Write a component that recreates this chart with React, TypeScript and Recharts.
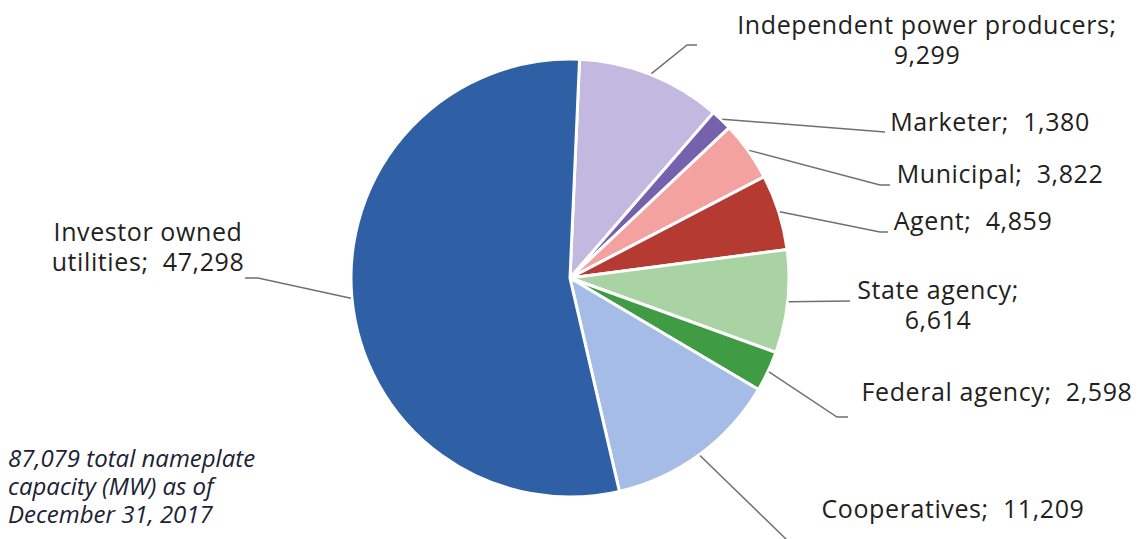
import React from "react";
import { Cell, Pie, PieChart } from "recharts";

// Nameplate capacity (MW) by owner type, clockwise from 12 o'clock.
const OWNERS = [
  "Independent power producers",
  "Marketer",
  "Municipal",
  "Agent",
  "State agency",
  "Federal agency",
  "Cooperatives",
  "Investor owned utilities",
];
const CAPACITY = [9299, 1380, 3822, 4859, 6614, 2598, 11209, 47298];
const COLORS = ["#c3b8df", "#7661ad", "#f3a2a0", "#b53a32", "#a9d3a2", "#3f9c45", "#a5bde6", "#2f5fa5"];
const FOOTNOTE = ["87,079 total nameplate", "capacity (MW) as of", "December 31, 2017"];

const fmt = new Intl.NumberFormat("en-US");
const rows = OWNERS.map((name, i) => ({ name, value: CAPACITY[i] }));

// label text placement + leader line bends (screen px)
const LABELS: { lines: (v: string) => string[]; x: number; y: number; path: [number, number][] }[] = [
  { lines: (v) => ["Independent power producers;", v], x: 927, y: 34, path: [[687, 45], [697, 45]] },
  { lines: (v) => [`Marketer;  ${v}`], x: 990, y: 131, path: [[885, 132]] },
  { lines: (v) => [`Municipal;  ${v}`], x: 1000, y: 183, path: [[880, 185], [890, 185]] },
  { lines: (v) => [`Agent;  ${v}`], x: 973, y: 230, path: [[880, 232], [888, 232]] },
  { lines: (v) => ["State agency;", v], x: 938, y: 299, path: [[850, 301]] },
  { lines: (v) => [`Federal agency;  ${v}`], x: 997, y: 401, path: [[837, 417], [848, 417]] },
  { lines: (v) => [`Cooperatives;  ${v}`], x: 953, y: 518, path: [[787, 540]] },
  { lines: (v) => ["Investor owned", `utilities;  ${v}`], x: 148, y: 241, path: [[258, 278], [245, 278]] },
];

const RAD = Math.PI / 180;
const FONT = "'Open Sans', Lato, sans-serif";

function renderLabel(props: any) {
  const { cx, cy, midAngle, outerRadius, index, value } = props;
  const cfg = LABELS[index];
  const sx = cx + (outerRadius + 1) * Math.cos(-midAngle * RAD);
  const sy = cy + (outerRadius + 1) * Math.sin(-midAngle * RAD);
  const pts = [[sx, sy], ...cfg.path].map((p) => p.join(",")).join(" ");
  return (
    <g key={`lbl-${index}`}>
      <polyline points={pts} fill="none" stroke="#707070" strokeWidth={1.5} />
      <text
        x={cfg.x}
        y={cfg.y}
        textAnchor="middle"
        fill="#231f20"
        fontSize={25}
        letterSpacing={0.6}
        fontFamily={FONT}
        style={{ whiteSpace: "pre" }}
      >
        {cfg.lines(fmt.format(value)).map((line, j) => (
          <tspan key={j} x={cfg.x} dy={j === 0 ? 0 : 30}>
            {line}
          </tspan>
        ))}
      </text>
    </g>
  );
}

export default function App() {
  return (
    <div style={{ position: "absolute", left: 0, top: 0, width: 1138, height: 539, background: "#fff" }}>
      <PieChart width={1138} height={539} margin={{ top: 0, right: 0, bottom: 0, left: 0 }}>
        <Pie
          data={rows}
          dataKey="value"
          nameKey="name"
          cx={570}
          cy={278}
          outerRadius={219}
          startAngle={87.5}
          endAngle={-272.5}
          stroke="#ffffff"
          strokeWidth={3}
          label={renderLabel}
          labelLine={false}
          isAnimationActive={false}
        >
          {rows.map((_, i) => (
            <Cell key={i} fill={COLORS[i]} />
          ))}
        </Pie>
        <text x={8} y={467} fill="#1c2233" fontSize={24} fontStyle="italic" fontFamily={FONT}>
          {FOOTNOTE.map((line, j) => (
            <tspan key={j} x={8} dy={j === 0 ? 0 : 28}>
              {line}
            </tspan>
          ))}
        </text>
      </PieChart>
    </div>
  );
}
